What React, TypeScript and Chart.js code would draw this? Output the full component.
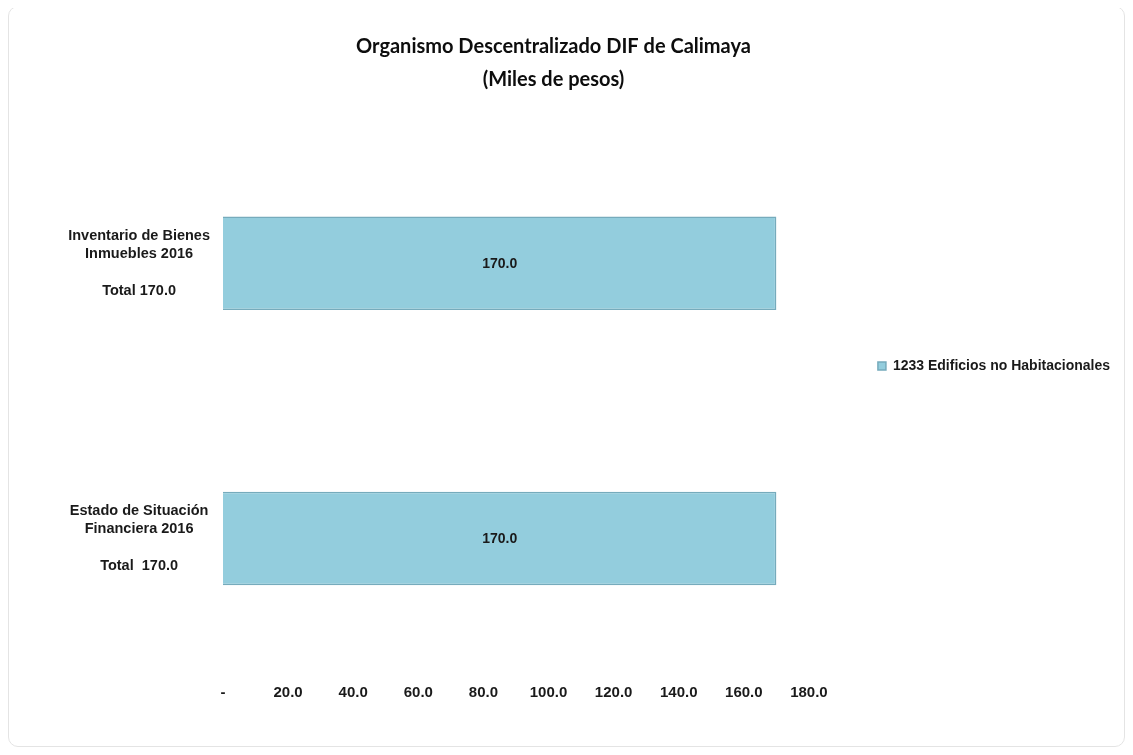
import React, { useEffect, useRef } from 'react';
import { Chart, registerables } from 'chart.js';

Chart.register(...registerables);

// ---- data ----
const TITLE_LINES = ['Organismo Descentralizado DIF de Calimaya', '(Miles de pesos)'];
const CATEGORY_LABELS = [
  ['Inventario de Bienes', 'Inmuebles 2016', '', 'Total 170.0'],
  ['Estado de Situación', 'Financiera 2016', '', 'Total  170.0'],
];
const SERIES_NAME = '1233 Edificios no Habitacionales';
const SERIES_VALUES = [170.0, 170.0];
const X_MIN = 0;
const X_MAX = 180;
const X_STEP = 20;

const FONT = '"Liberation Sans", Arial, sans-serif';
const TEXT_COLOR = '#1a1a1a';

const valueLabels = {
  id: 'valueLabels',
  afterDatasetsDraw(chart: any) {
    const ctx = chart.ctx;
    chart.data.datasets.forEach((ds: any, di: number) => {
      const meta = chart.getDatasetMeta(di);
      meta.data.forEach((bar: any, i: number) => {
        const v = ds.data[i] as number;
        const { x, y, base } = bar.getProps(['x', 'y', 'base'], true);
        ctx.save();
        ctx.font = `bold 14px ${FONT}`;
        ctx.fillStyle = TEXT_COLOR;
        ctx.textAlign = 'center';
        ctx.textBaseline = 'middle';
        ctx.fillText(v.toFixed(1), (x + base) / 2, y + 1);
        ctx.restore();
      });
    });
  },
};

const titleShift = {
  id: 'titleShift',
  afterLayout(chart: any) {
    const t = chart.titleBlock;
    if (t) {
      t.right -= 22;
      t.width -= 22;
    }
  },
};

export default function App() {
  const canvasRef = useRef<HTMLCanvasElement | null>(null);

  useEffect(() => {
    if (!canvasRef.current) return;
    const chart = new Chart(canvasRef.current, {
      type: 'bar',
      data: {
        labels: CATEGORY_LABELS,
        datasets: [
          {
            label: SERIES_NAME,
            data: SERIES_VALUES,
            backgroundColor: '#93CDDD',
            borderColor: '#76ABBC',
            borderWidth: 1.5,
            barPercentage: 0.34,
            categoryPercentage: 1.0,
          },
        ],
      },
      plugins: [valueLabels, titleShift],
      options: {
        indexAxis: 'y',
        animation: false,
        responsive: true,
        maintainAspectRatio: false,
        layout: { padding: { left: 0, right: 4, top: 0, bottom: 36 } },
        plugins: {
          tooltip: { enabled: false },
          title: {
            display: true,
            text: TITLE_LINES,
            color: '#0d0d0d',
            font: { family: 'Lato', size: 20, weight: 'bold', lineHeight: '33px' },
            padding: { top: 23.5, bottom: 29.25 },
          },
          legend: {
            position: 'right',
            align: 'start',
            maxWidth: 400,
            title: {
              display: true,
              text: '',
              padding: { top: 273, bottom: 0 },
              font: { size: 10, lineHeight: '10px' },
            },
            labels: {
              boxWidth: 8,
              boxHeight: 8,
              padding: 69,
              color: TEXT_COLOR,
              font: { family: FONT, size: 14, weight: 'bold' },
            },
          },
        },
        scales: {
          x: {
            type: 'linear',
            min: X_MIN,
            max: X_MAX,
            ticks: {
              stepSize: X_STEP,
              padding: 8,
              color: TEXT_COLOR,
              font: { family: FONT, size: 15, weight: 'bold' },
              callback: (v: any) => (Number(v) === 0 ? '-' : Number(v).toFixed(1)),
            },
            grid: { display: false, drawTicks: false },
            border: { display: false },
          },
          y: {
            type: 'category',
            ticks: {
              crossAlign: 'center',
              padding: 13,
              color: TEXT_COLOR,
              font: { family: FONT, size: 14.5, weight: 'bold', lineHeight: 1.25 },
            },
            grid: { display: false, drawTicks: false },
            border: { display: false },
            afterFit: (scale: any) => {
              scale.width = 214;
            },
          },
        },
      },
    } as any);
    return () => chart.destroy();
  }, []);

  return (
    <div
      style={{
        width: 1117,
        height: 741,
        marginTop: -2,
        boxSizing: 'border-box',
        border: '1px solid #e4e4e4',
        borderRadius: 10,
        background: '#fff',
      }}
    >
      <div style={{ position: 'relative', width: 1115, height: 739 }}>
        <canvas ref={canvasRef} />
      </div>
    </div>
  );
}
